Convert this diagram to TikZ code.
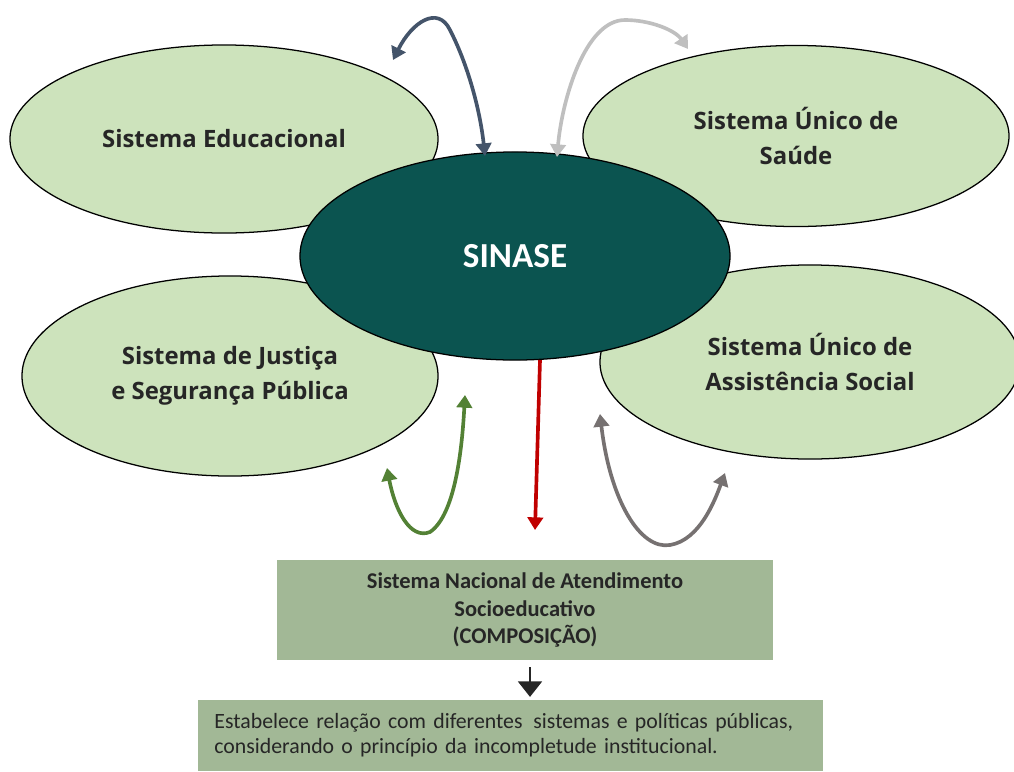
\documentclass[tikz,border=0pt]{standalone}
\usepackage{fontspec}
\setmainfont{Carlito}
\newfontfamily\roundfont{Open Sans}
\usetikzlibrary{shapes.geometric,arrows.meta}

\definecolor{lightgreen}{HTML}{CDE3BC}
\definecolor{darkteal}{HTML}{0B5450}
\definecolor{boxgreen}{HTML}{A2B896}
\definecolor{slateblue}{HTML}{44546A}
\definecolor{lightgray}{HTML}{BFBFBF}
\definecolor{darkred}{HTML}{C00000}
\definecolor{leafgreen}{HTML}{538135}
\definecolor{warmgray}{HTML}{767171}
\definecolor{inktext}{HTML}{262626}

\tikzset{
  system/.style={ellipse,draw=black,line width=0.9pt,fill=lightgreen,inner sep=0pt,
    align=center,text=inktext,font=\roundfont\bfseries\fontsize{17}{25}\selectfont},
  core/.style={ellipse,draw=black,line width=0.9pt,fill=darkteal,inner sep=0pt,
    text=white,font=\bfseries\fontsize{25}{28}\selectfont},
  infobox/.style={rectangle,fill=boxgreen,inner sep=0pt,text=inktext},
  link/.style={line width=2.6pt,-{Triangle[length=9pt,width=11pt]}},
  twoway/.style={line width=2.6pt,{Triangle[length=9pt,width=11pt]}-{Triangle[length=9pt,width=11pt]}}
}

\begin{document}
\begin{tikzpicture}[x=0.025cm,y=-0.025cm]
\useasboundingbox (0,0) rectangle (1014,771);

% outer systems
\node[system,minimum width=10.7cm,minimum height=4.7cm] (edu) at (224,139) {Sistema Educacional};
\node[system,minimum width=10.65cm,minimum height=4.525cm] (saude) at (796,136) {Sistema Único de\\Saúde};
\node[system,minimum width=10.4cm,minimum height=5cm] (justica) at (230,376) {Sistema de Justiça\\e Segurança Pública};
\node[system,minimum width=10.5cm,minimum height=4.85cm] (social) at (810,362) {Sistema Único de\\Assistência Social};

% centre
\node[core,minimum width=10.75cm,minimum height=5.2cm] (sinase) at (515,256) {SINASE};

% boxes
\node[infobox,minimum width=12.4cm,minimum height=2.5cm,align=center,
  font=\bfseries\fontsize{16}{19.5}\selectfont] (comp) at (525,610)
  {Sistema Nacional de Atendimento\\Socioeducativo\\(COMPOSIÇÃO)};
\node[infobox,minimum width=15.6cm,minimum height=1.775cm,text width=15.6cm-0.8cm,align=left,
  font=\fontsize{15.5}{18}\selectfont] (rel) at (510.5,735.5)
  {Estabelece relação com diferentes\, sistemas e políticas públicas,\\considerando o princípio da incompletude institucional.};

% free ends of the curved arrows
\coordinate (eduTip) at (393,60);
\coordinate (eduCore) at (485,156);
\coordinate (sauCore) at (557,157);
\coordinate (sauTip) at (688,49);
\coordinate (redTop) at (540,360);
\coordinate (redEnd) at (535,530);
\coordinate (jusTipA) at (387,468);
\coordinate (jusTipB) at (465,395);
\coordinate (socTipA) at (600,414);
\coordinate (socTipB) at (725,473);
\coordinate (downX) at (530,0);

\draw[twoway,slateblue] (eduTip) .. controls (412,22) and (438,5) .. (450,30)
  .. controls (468,65) and (480,110) .. (eduCore);
\draw[twoway,lightgray] (sauCore) .. controls (562,100) and (585,20) .. (625,20)
  .. controls (650,20) and (675,30) .. (sauTip);
\draw[link,darkred] (redTop) -- (redEnd);
\draw[twoway,leafgreen] (jusTipA) .. controls (395,510) and (410,540) .. (430,532)
  .. controls (455,515) and (462,450) .. (jusTipB);
\draw[twoway,warmgray] (socTipA) .. controls (610,500) and (640,550) .. (670,545)
  .. controls (700,540) and (715,500) .. (socTipB);

\draw[line width=1.4pt,inktext,shorten <=5pt,shorten >=2pt,-{Triangle[length=11pt,width=17pt]}]
  (comp.south -| downX) -- (rel.north -| downX);
\end{tikzpicture}
\end{document}
